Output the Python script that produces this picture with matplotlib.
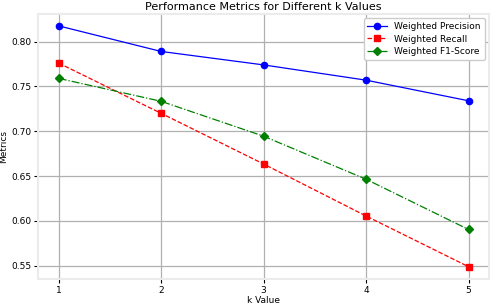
import numpy as np
import matplotlib.pyplot as plt

k = [1, 2, 3, 4, 5]
precision = [0.8175, 0.789, 0.774, 0.757, 0.734]
recall = [0.776, 0.720, 0.6635, 0.6055, 0.549]
f1 = [0.759, 0.7334, 0.6945, 0.6465, 0.5905]

fig = plt.figure(figsize=(4.9, 3.08), dpi=100)
ax = fig.add_axes([0.078, 0.095, 0.92, 0.86])

ax.plot(k, precision, color='blue', linestyle='-', marker='o', markersize=4.5,
        linewidth=0.9, label='Weighted Precision')
ax.plot(k, recall, color='red', linestyle='--', marker='s', markersize=4.5,
        linewidth=0.9, label='Weighted Recall')
ax.plot(k, f1, color='green', linestyle='-.', marker='D', markersize=4,
        linewidth=0.9, label='Weighted F1-Score')

ax.set_xticks(k)
ax.grid(True, color='#b0b0b0', linewidth=0.9)
ax.set_axisbelow(True)
for s in ax.spines.values():
    s.set_color('#ebebeb')
    s.set_linewidth(1.5)
ax.tick_params(labelsize=6.5, length=3, width=0.8, pad=2)

ax.set_title('Performance Metrics for Different k Values', fontsize=8, pad=3)
ax.set_xlabel('k Value', fontsize=6.5, labelpad=1)
ax.set_ylabel('Metrics', fontsize=6.5, labelpad=2)
ax.legend(loc='upper right', fontsize=6.5, framealpha=1, borderpad=0.4,
          handlelength=2.2, labelspacing=0.4)

fig.savefig('out.png', dpi=100)
